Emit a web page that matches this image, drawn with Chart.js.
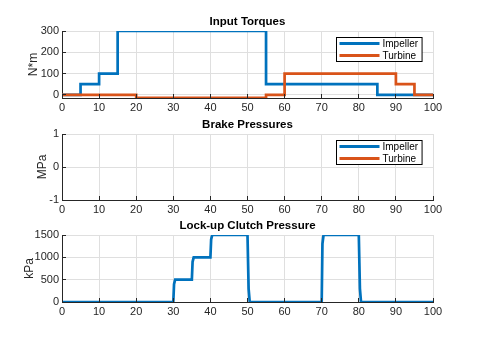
<!DOCTYPE html>
<html>
<head>
<meta charset="utf-8">
<script src="https://cdn.jsdelivr.net/npm/chart.js@4/dist/chart.umd.min.js"></script>
<style>
    html, body { margin: 0; padding: 0; background: #fff; }
    #wrap { position: relative; width: 480px; height: 340px; overflow: hidden; }
    #wrap canvas { position: absolute; left: 0; top: 0; }
</style>
</head>
<body>
<div id="wrap">
    <canvas id="torque" width="480" height="340"></canvas>
    <canvas id="brake" width="480" height="340"></canvas>
    <canvas id="clutch" width="480" height="340"></canvas>
</div>
<script>
// Input torques (N*m): value holds from each time until the next one
const impellerTime = [0, 5, 10, 15, 55, 85, 100];
const impellerTorque = [0, 50, 100, 300, 50, 0, 0];
const turbineTime = [0, 20, 55, 60, 90, 95, 100];
const turbineTorque = [0, -14, 0, 100, 50, 0, 0];

// Brake pressures (MPa): nothing plotted
const brakeTime = [];
const brakeImpeller = [];
const brakeTurbine = [];

// Lock-up clutch pressure (kPa)
const clutchTime = [0, 30, 30.2, 30.5, 35, 35.2, 35.5, 40, 40.2, 40.5, 50, 50.3, 50.6, 70, 70.2, 70.5, 80, 80.3, 80.6, 100];
const clutchPressure = [0, 0, 400, 500, 500, 900, 1000, 1000, 1400, 1500, 1500, 300, 0, 0, 1300, 1500, 1500, 300, 0, 0];

// Tick labels
const xTicks = [0, 10, 20, 30, 40, 50, 60, 70, 80, 90, 100];
const torqueTicks = [0, 100, 200, 300];
const brakeTicks = [-1, 0, 1];
const clutchTicks = [0, 500, 1000, 1500];

const blue = '#0072BD';
const orange = '#D95319';
const axisColor = '#262626';
const gridColor = '#dfdfdf';

Chart.defaults.font.family = '"Liberation Sans", Arial, sans-serif';
Chart.defaults.color = axisColor;

function points(xs, ys) {
    return xs.map((x, i) => ({ x: x, y: ys[i] }));
}

function align(px) {
    return Math.round(px + 0.5) - 0.5;
}

// MATLAB style extras: inward ticks, title, boxed legend
const matlabLook = {
    id: 'matlabLook',
    afterDraw(chart, args, opts) {
        const { ctx, chartArea: a, scales } = chart;
        ctx.save();
        ctx.strokeStyle = axisColor;
        ctx.lineWidth = 1;
        ctx.beginPath();
        scales.x.ticks.forEach(t => {
            const px = align(scales.x.getPixelForValue(t.value));
            ctx.moveTo(px, a.bottom);
            ctx.lineTo(px, a.bottom - 4);
        });
        scales.y.ticks.forEach(t => {
            const py = align(scales.y.getPixelForValue(t.value));
            ctx.moveTo(a.left, py);
            ctx.lineTo(a.left + 4, py);
        });
        ctx.stroke();

        ctx.fillStyle = '#000';
        ctx.font = 'bold 11.5px "Liberation Sans", Arial, sans-serif';
        ctx.textAlign = 'center';
        ctx.textBaseline = 'middle';
        ctx.fillText(opts.text, (a.left + a.right) / 2, a.top - 9);

        if (opts.legend) {
            ctx.font = '10px "Liberation Sans", Arial, sans-serif';
            const sets = chart.data.datasets;
            const textW = Math.max(...sets.map(d => ctx.measureText(d.label).width));
            const boxW = 3 + 40 + 3 + textW + 4;
            const boxH = 24;
            const bx = Math.round(a.right - 11 - boxW) + 0.5;
            const by = Math.round(a.top + 6) + 0.5;
            ctx.fillStyle = '#fff';
            ctx.fillRect(bx, by, boxW, boxH);
            ctx.strokeStyle = '#000';
            ctx.lineWidth = 1;
            ctx.strokeRect(bx, by, boxW, boxH);
            ctx.textAlign = 'left';
            sets.forEach((d, i) => {
                const cy = by + 6 + i * 12;
                ctx.strokeStyle = d.borderColor;
                ctx.lineWidth = 3;
                ctx.beginPath();
                ctx.moveTo(bx + 3, cy);
                ctx.lineTo(bx + 43, cy);
                ctx.stroke();
                ctx.fillStyle = '#000';
                ctx.fillText(d.label, bx + 46, cy + 0.5);
            });
        }
        ctx.restore();
    }
};

function makeChart(id, box, yMin, yMax, yTicks, yTitle, titlePad, title, legend, datasets) {
    return new Chart(document.getElementById(id), {
        type: 'line',
        data: { datasets: datasets },
        options: {
            responsive: false,
            devicePixelRatio: 1,
            animation: false,
            events: [],
            layout: { padding: { top: box.top, right: 480 - box.right, left: 0, bottom: 0 } },
            plugins: {
                legend: { display: false },
                tooltip: { enabled: false },
                matlabLook: { text: title, legend: legend }
            },
            scales: {
                x: {
                    type: 'linear',
                    min: 0,
                    max: 100,
                    afterBuildTicks: s => { s.ticks = xTicks.map(v => ({ value: v })); },
                    afterFit: s => { s.height = 340 - box.bottom; },
                    grid: { color: gridColor, drawTicks: false },
                    border: { color: axisColor, width: 1 },
                    ticks: { font: { size: 11 }, padding: 3, maxRotation: 0, autoSkip: false, callback: v => String(v) }
                },
                y: {
                    type: 'linear',
                    min: yMin,
                    max: yMax,
                    afterBuildTicks: s => { s.ticks = yTicks.map(v => ({ value: v })); },
                    afterFit: s => { s.width = box.left; },
                    grid: { color: gridColor, drawTicks: false },
                    border: { color: axisColor, width: 1 },
                    ticks: { font: { size: 11 }, padding: 3, autoSkip: false, callback: v => String(v) },
                    title: { display: true, text: yTitle, font: { size: 12 }, color: axisColor, padding: { top: titlePad, bottom: 0 } }
                }
            }
        },
        plugins: [matlabLook]
    });
}

function line(label, xs, ys, color, order, stepped) {
    return {
        label: label,
        data: points(xs, ys),
        borderColor: color,
        backgroundColor: color,
        borderWidth: 2.7,
        pointRadius: 0,
        fill: false,
        stepped: stepped,
        order: order,
        borderJoinStyle: 'miter',
        tension: 0
    };
}

makeChart('torque', { left: 62, right: 433, top: 31, bottom: 98 }, -15, 300, torqueTicks, 'N*m', 26,
    'Input Torques', true, [
        line('Impeller', impellerTime, impellerTorque, blue, 1, true),
        line('Turbine', turbineTime, turbineTorque, orange, 0, true)
    ]);

makeChart('brake', { left: 62, right: 433, top: 134, bottom: 200 }, -1, 1, brakeTicks, 'MPa', 35,
    'Brake Pressures', true, [
        line('Impeller', brakeTime, brakeImpeller, blue, 1, false),
        line('Turbine', brakeTime, brakeTurbine, orange, 0, false)
    ]);

makeChart('clutch', { left: 62, right: 433, top: 235, bottom: 302 }, 0, 1500, clutchTicks, 'kPa', 22,
    'Lock-up Clutch Pressure', false, [
        line('Lock-up', clutchTime, clutchPressure, blue, 0, false)
    ]);
</script>
</body>
</html>
